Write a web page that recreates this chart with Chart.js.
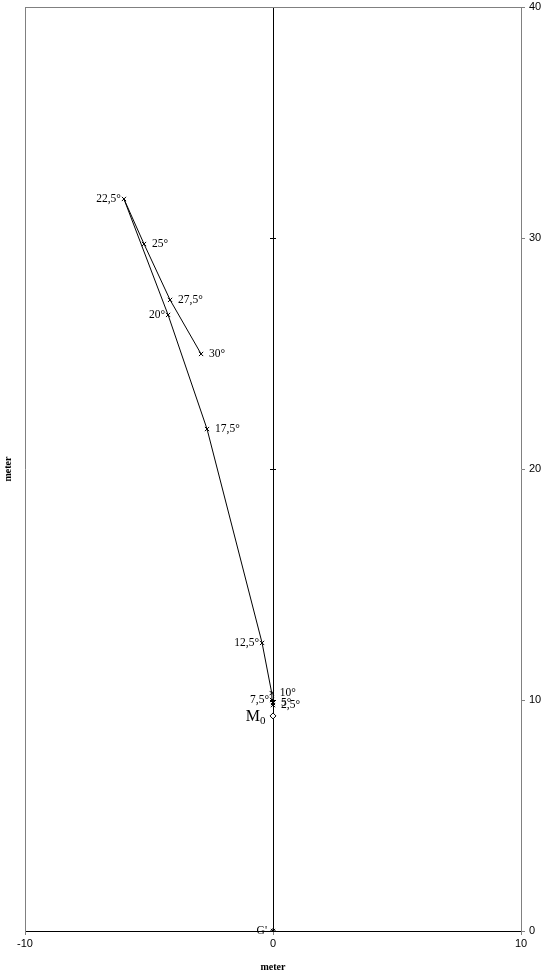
<!DOCTYPE html>
<html>
<head>
<meta charset="utf-8">
<script src="https://cdn.jsdelivr.net/npm/chart.js@4/dist/chart.umd.min.js"></script>
<style>
  html, body { margin: 0; padding: 0; background: #fff; }
  #wrap { width: 550px; height: 975px; }
</style>
</head>
<body>
<div id="wrap"><canvas id="chart"></canvas></div>
<script>
// angle labels and measured positions (meter)
const angleLabels = ["2,5°", "5°", "7,5°", "10°", "12,5°", "17,5°", "20°", "22,5°", "25°", "27,5°", "30°"];
const xValues = [0.0, 0.0, -0.04, -0.05, -0.44, -2.66, -4.23, -6.01, -5.20, -4.15, -2.90];
const yValues = [9.78, 9.87, 10.0, 10.30, 12.47, 21.73, 26.67, 31.69, 29.74, 27.32, 24.98];

const m0Point = { x: 0, y: 9.31 };
const gPoint = { x: 0, y: 0 };

const xTicks = [-10, 0, 10];
const yTicks = [0, 10, 20, 30, 40];

const leftLabelled = ["7,5°", "12,5°", "20°", "22,5°"];

const mainData = xValues.map((x, i) => ({ x: x, y: yValues[i] }));

const serif = "'Liberation Serif', 'Times New Roman', serif";
const sans = "'Liberation Sans', Arial, sans-serif";

// point labels + small ticks on the x=0 axis
const labelPlugin = {
  id: "pointLabels",
  afterDatasetsDraw(chart) {
    const ctx = chart.ctx;
    const xs = chart.scales.x, ys = chart.scales.y;
    const x0 = xs.getPixelForValue(0);

    ctx.save();
    ctx.strokeStyle = "#000";
    ctx.lineWidth = 1;
    yTicks.slice(1, -1).forEach(v => {
      const py = Math.round(ys.getPixelForValue(v)) + 0.5;
      ctx.beginPath();
      ctx.moveTo(x0 - 3, py);
      ctx.lineTo(x0 + 3, py);
      ctx.stroke();
    });

    ctx.fillStyle = "#000";
    ctx.font = "11.5px " + serif;
    ctx.textBaseline = "middle";
    const meta = chart.getDatasetMeta(0);
    meta.data.forEach((pt, i) => {
      const lbl = angleLabels[i];
      if (leftLabelled.includes(lbl)) {
        ctx.textAlign = "right";
        ctx.fillText(lbl, pt.x - 3, pt.y);
      } else {
        ctx.textAlign = "left";
        ctx.fillText(lbl, pt.x + 8, pt.y);
      }
    });

    // M0 label
    const m = chart.getDatasetMeta(1).data[0];
    ctx.textAlign = "right";
    ctx.font = "16px " + serif;
    ctx.fillText("M", m.x - 13, m.y + 1);
    ctx.font = "11px " + serif;
    ctx.textAlign = "left";
    ctx.fillText("0", m.x - 13, m.y + 5);

    // G' label
    const g = chart.getDatasetMeta(2).data[0];
    ctx.textAlign = "right";
    ctx.font = "11.5px " + serif;
    ctx.fillText("G'", g.x - 6, g.y);
    ctx.restore();
  }
};

new Chart(document.getElementById("chart"), {
  type: "scatter",
  data: {
    datasets: [
      {
        label: "angle",
        data: mainData,
        showLine: true,
        borderColor: "#000",
        borderWidth: 1,
        backgroundColor: "#000",
        pointStyle: "crossRot",
        pointRadius: 3,
        pointBorderWidth: 1,
        tension: 0
      },
      {
        label: "M0",
        data: [m0Point],
        pointStyle: "rectRot",
        pointRadius: 3,
        borderColor: "#000",
        backgroundColor: "#fff",
        pointBorderWidth: 1
      },
      {
        label: "G'",
        data: [gPoint],
        pointStyle: "star",
        pointRadius: 3,
        borderColor: "#000",
        pointBorderWidth: 1
      }
    ]
  },
  options: {
    responsive: true,
    maintainAspectRatio: false,
    animation: false,
    layout: { padding: { top: 7, left: 0, right: 0, bottom: 0 } },
    plugins: {
      legend: { display: false },
      tooltip: { enabled: false }
    },
    scales: {
      x: {
        type: "linear",
        min: -10,
        max: 10,
        afterBuildTicks: s => { s.ticks = xTicks.map(v => ({ value: v })); },
        afterFit: s => { s.height = 44; s.paddingLeft = 0; s.paddingRight = 0; },
        border: { color: "#000", width: 1 },
        grid: {
          color: c => c.tick && c.tick.value === 0 ? "#000" : "rgba(0,0,0,0)",
          tickColor: "#808080",
          tickLength: 4
        },
        ticks: { color: "#000", font: { family: sans, size: 11 }, padding: 2 },
        title: {
          display: true,
          text: "meter",
          color: "#000",
          font: { family: serif, size: 10, weight: "bold" },
          padding: { top: 0, bottom: 2 }
        }
      },
      y: {
        type: "linear",
        position: "right",
        min: 0,
        max: 40,
        afterBuildTicks: s => { s.ticks = yTicks.map(v => ({ value: v })); },
        afterFit: s => { s.width = 29; s.paddingTop = 0; s.paddingBottom = 0; },
        border: { color: "#808080", width: 1 },
        grid: {
          color: c => c.tick && c.tick.value === 40 ? "#808080" : "rgba(0,0,0,0)",
          tickColor: "#808080",
          tickLength: 4
        },
        ticks: { color: "#000", font: { family: sans, size: 11 }, padding: 4 }
      },
      yLeft: {
        type: "linear",
        position: "left",
        min: 0,
        max: 40,
        afterFit: s => { s.width = 25; s.paddingTop = 0; s.paddingBottom = 0; },
        border: { color: "#808080", width: 1 },
        grid: { display: false },
        ticks: { display: false },
        title: {
          display: true,
          text: "meter",
          color: "#000",
          font: { family: serif, size: 10, weight: "bold" },
          padding: { top: 2, bottom: 0 }
        }
      }
    }
  },
  plugins: [labelPlugin]
});
</script>
</body>
</html>
